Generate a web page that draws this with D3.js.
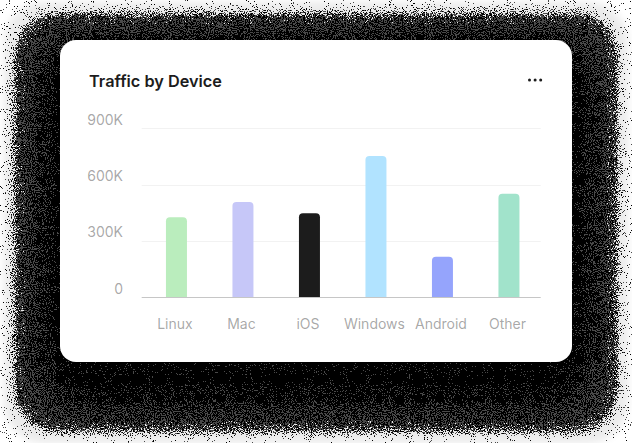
<!DOCTYPE html>
<html>
<head>
<meta charset="utf-8">
<script src="https://cdn.jsdelivr.net/npm/d3@7/dist/d3.min.js"></script>
<style>
  html, body { margin: 0; padding: 0; background: #fff; }
  svg { display: block; }
  text { font-family: Inter, "Noto Sans", sans-serif; }
</style>
</head>
<body>
<svg id="chart" width="632" height="443"></svg>
<script>
const title = "Traffic by Device";
const categories = ["Linux", "Mac", "iOS", "Windows", "Android", "Other"];
const values = [425000, 507000, 447000, 752000, 215000, 551000];
const colors = ["#BAEDBD", "#C6C7F8", "#1C1C1C", "#B1E3FF", "#95A4FC", "#A1E3CB"];
const yTicks = [0, 300000, 600000, 900000];
const yTickLabels = ["0", "300K", "600K", "900K"];

const svg = d3.select("#chart");
const defs = svg.append("defs");

// dithered shadow filter
const f = defs.append("filter").attr("id", "dither")
  .attr("filterUnits", "userSpaceOnUse")
  .attr("x", 0).attr("y", 0).attr("width", 632).attr("height", 443);
// outer edge mask
f.append("feGaussianBlur").attr("in", "SourceAlpha").attr("stdDeviation", 5).attr("result", "blur");
f.append("feTurbulence").attr("type", "fractalNoise").attr("baseFrequency", 0.95)
  .attr("numOctaves", 2).attr("seed", 7).attr("result", "turb");
f.append("feColorMatrix").attr("in", "turb").attr("type", "matrix")
  .attr("values", "0 0 0 0 0  0 0 0 0 0  0 0 0 0 0  2.5 0 0 0 -0.75").attr("result", "noise");
f.append("feComposite").attr("in", "blur").attr("in2", "noise").attr("operator", "arithmetic")
  .attr("k1", 0).attr("k2", 1).attr("k3", -1).attr("k4", 0.5).attr("result", "diff");
const ct = f.append("feComponentTransfer").attr("in", "diff").attr("result", "m1");
ct.append("feFuncA").attr("type", "discrete").attr("tableValues", "0 1");
// inner gradient for gray speckle
f.append("feMorphology").attr("in", "SourceAlpha").attr("operator", "erode").attr("radius", 30).attr("result", "er");
f.append("feGaussianBlur").attr("in", "er").attr("stdDeviation", 16).attr("result", "inner");
f.append("feTurbulence").attr("type", "fractalNoise").attr("baseFrequency", 0.95)
  .attr("numOctaves", 2).attr("seed", 23).attr("result", "turb2");
f.append("feColorMatrix").attr("in", "turb2").attr("type", "matrix")
  .attr("values", "0 0 0 0 0  0 0 0 0 0  0 0 0 0 0  2.5 0 0 0 -0.75").attr("result", "noise2");
f.append("feComposite").attr("in", "inner").attr("in2", "noise2").attr("operator", "arithmetic")
  .attr("k1", 0).attr("k2", -0.55).attr("k3", -1).attr("k4", 1.05).attr("result", "diff2");
const ct2 = f.append("feComponentTransfer").attr("in", "diff2").attr("result", "s1");
ct2.append("feFuncA").attr("type", "discrete").attr("tableValues", "0 1");
f.append("feFlood").attr("flood-color", "#000").attr("result", "black");
f.append("feComposite").attr("in", "black").attr("in2", "m1").attr("operator", "in").attr("result", "blk");
f.append("feFlood").attr("flood-color", "#4a4a4a").attr("result", "gray");
f.append("feComposite").attr("in", "gray").attr("in2", "s1").attr("operator", "in").attr("result", "gr1");
f.append("feComposite").attr("in", "gr1").attr("in2", "m1").attr("operator", "in").attr("result", "gr");
const mg = f.append("feMerge");
mg.append("feMergeNode").attr("in", "blk");
mg.append("feMergeNode").attr("in", "gr");

// faint outer haze
const f2 = defs.append("filter").attr("id", "haze")
  .attr("filterUnits", "userSpaceOnUse")
  .attr("x", 0).attr("y", 0).attr("width", 632).attr("height", 443);
f2.append("feGaussianBlur").attr("stdDeviation", 4);
svg.append("rect").attr("x", 4).attr("y", 2).attr("width", 624).attr("height", 441)
  .attr("rx", 40).attr("fill", "#000").attr("opacity", 0.08).attr("filter", "url(#haze)");

svg.append("rect").attr("x", 14).attr("y", 13).attr("width", 604).attr("height", 419)
  .attr("rx", 44).attr("fill", "#000").attr("filter", "url(#dither)");

// card
svg.append("rect").attr("x", 60).attr("y", 40).attr("width", 512).attr("height", 322)
  .attr("rx", 16).attr("fill", "#fff");

// title
svg.append("text").attr("x", 89).attr("y", 86.5).attr("font-size", 16.3).attr("font-weight", 600)
  .attr("fill", "#1C1C1C").text(title);

// more dots
svg.append("g").selectAll("circle").data([0, 1, 2]).join("circle")
  .attr("cx", d => 529.5 + d * 5.6).attr("cy", 80).attr("r", 1.5).attr("fill", "#1C1C1C");

const x = d3.scaleBand().domain(categories).range([141.7, 540.7]).padding(0);
const y = d3.scaleLinear().domain([0, 900000]).range([297, 128.3]);

// gridlines
svg.append("g").selectAll("line").data(yTicks.filter(t => t > 0)).join("line")
  .attr("x1", 141.7).attr("x2", 540.7)
  .attr("y1", d => Math.round(y(d)) + 0.5).attr("y2", d => Math.round(y(d)) + 0.5)
  .attr("stroke", "rgba(28,28,28,0.06)").attr("stroke-width", 1);

// y labels
svg.append("g").selectAll("text").data(yTicks).join("text")
  .attr("x", 123).attr("y", d => y(d) - 3.5)
  .attr("text-anchor", "end").attr("font-size", 14).attr("fill", "rgba(28,28,28,0.4)")
  .text((d, i) => yTickLabels[i]);

// bars
const bw = 21, r = 4;
function barPath(x0, y0, w, h) {
  const rr = Math.min(r, h);
  return `M${x0},${y0 + h} V${y0 + rr} Q${x0},${y0} ${x0 + rr},${y0} H${x0 + w - rr} Q${x0 + w},${y0} ${x0 + w},${y0 + rr} V${y0 + h} Z`;
}
svg.append("g").selectAll("path").data(categories).join("path")
  .attr("d", (d, i) => {
    const cx = x(d) + x.bandwidth() / 2 + 1.5;
    const top = y(values[i]);
    return barPath(cx - bw / 2, top, bw, y(0) - top);
  })
  .attr("fill", (d, i) => colors[i]);

// baseline
svg.append("line").attr("x1", 141.7).attr("x2", 540.7).attr("y1", 297.5).attr("y2", 297.5)
  .attr("stroke", "rgba(28,28,28,0.25)").attr("stroke-width", 1);

// x labels
svg.append("g").selectAll("text").data(categories).join("text")
  .attr("x", d => x(d) + x.bandwidth() / 2).attr("y", 328.5)
  .attr("text-anchor", "middle").attr("font-size", 14).attr("fill", "rgba(28,28,28,0.4)")
  .text(d => d);
</script>
</body>
</html>
